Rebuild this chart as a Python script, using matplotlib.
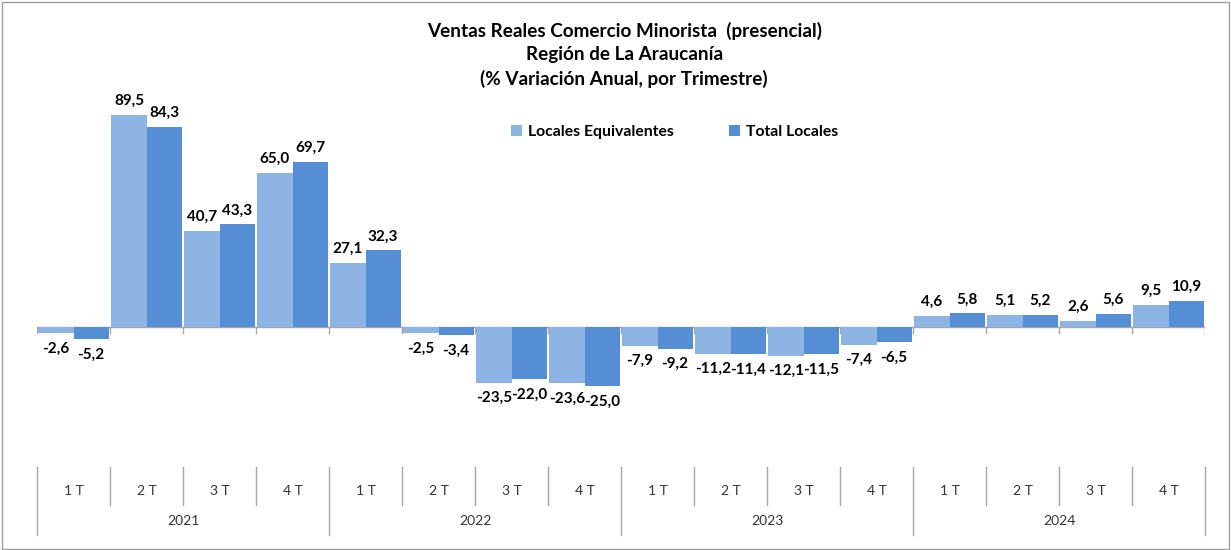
import matplotlib.pyplot as plt
from matplotlib.patches import Rectangle
import numpy as np

plt.rcParams['font.family'] = ['Lato', 'DejaVu Sans']

years = ["2021", "2022", "2023", "2024"]
quarters = ["1 T", "2 T", "3 T", "4 T"]
locales_equiv = [-2.6, 89.5, 40.7, 65.0, 27.1, -2.5, -23.5, -23.6,
                 -7.9, -11.2, -12.1, -7.4, 4.6, 5.1, 2.6, 9.5]
total_locales = [-5.2, 84.3, 43.3, 69.7, 32.3, -3.4, -22.0, -25.0,
                 -9.2, -11.4, -11.5, -6.5, 5.8, 5.2, 5.6, 10.9]

c_light = "#8EB4E3"
c_dark = "#558ED5"
grid_c = "#A6A6A6"

fig = plt.figure(figsize=(12.31, 5.5), dpi=100)
# plot area: x 37..1205 px, y 90..465 px
ax = fig.add_axes([37 / 1231, 85 / 550, 1168 / 1231, 375 / 550])

n = len(locales_equiv)
x = np.arange(n)
w = 0.48
b1 = ax.bar(x - w / 2, locales_equiv, w, color=c_light, label="Locales Equivalentes")
b2 = ax.bar(x + w / 2, total_locales, w, color=c_dark, label="Total Locales")

def fmt(v):
    return f"{v:.1f}".replace(".", ",")

for bars, vals in ((b1, locales_equiv), (b2, total_locales)):
    for r, v in zip(bars, vals):
        cx = r.get_x() + r.get_width() / 2
        if v >= 0:
            ax.annotate(fmt(v), (cx, v), xytext=(0, 5), textcoords="offset points",
                        ha="center", va="bottom", fontsize=11, fontweight="bold")
        else:
            ax.annotate(fmt(v), (cx, v), xytext=(0, -6), textcoords="offset points",
                        ha="center", va="top", fontsize=11, fontweight="bold")

ax.set_xlim(-0.5, n - 0.5)
ax.set_ylim(-58.2, 100)
ax.axis("off")

# zero line with small ticks
ax.axhline(0, color=grid_c, lw=1, zorder=0)
for b in np.arange(-0.5, n, 1.0):
    ax.plot([b, b], [0, -2.5], color=grid_c, lw=1)

# multi-level category axis
tr = ax.get_xaxis_transform()
for i, b in enumerate(np.arange(-0.5, n, 1.0)):
    long_line = (i % 4 == 0)
    y_end = -0.187 if long_line else -0.107
    ax.plot([b, b], [-0.005, y_end], color=grid_c, lw=1, transform=tr, clip_on=False)
for i in range(n):
    ax.text(i, -0.069, quarters[i % 4], transform=tr, ha="center", va="center",
            fontsize=10, color="#333333")
for j, yr in enumerate(years):
    ax.text(j * 4 + 1.5, -0.149, yr, transform=tr, ha="center", va="center",
            fontsize=10, color="#333333")

# title
fig.text(0.507, 1 - 55 / 550,
         "Ventas Reales Comercio Minorista  (presencial)\nRegión de La Araucanía\n(% Variación Anual, por Trimestre)",
         ha="center", va="center", fontsize=13.6, fontweight="bold", linespacing=1.42)

fig.legend(handles=[b1, b2], loc="center", bbox_to_anchor=(0.548, 1 - 132 / 550),
           ncol=2, frameon=False, handlelength=0.7, handleheight=0.7,
           columnspacing=3.5, handletextpad=0.4,
           prop={"weight": "bold", "size": 11.3})

fig.add_artist(Rectangle((0.002, 0.002), 0.996, 0.995, transform=fig.transFigure,
                         fill=False, edgecolor="#A0A0A0", lw=1))

fig.savefig("out.png", dpi=100)
